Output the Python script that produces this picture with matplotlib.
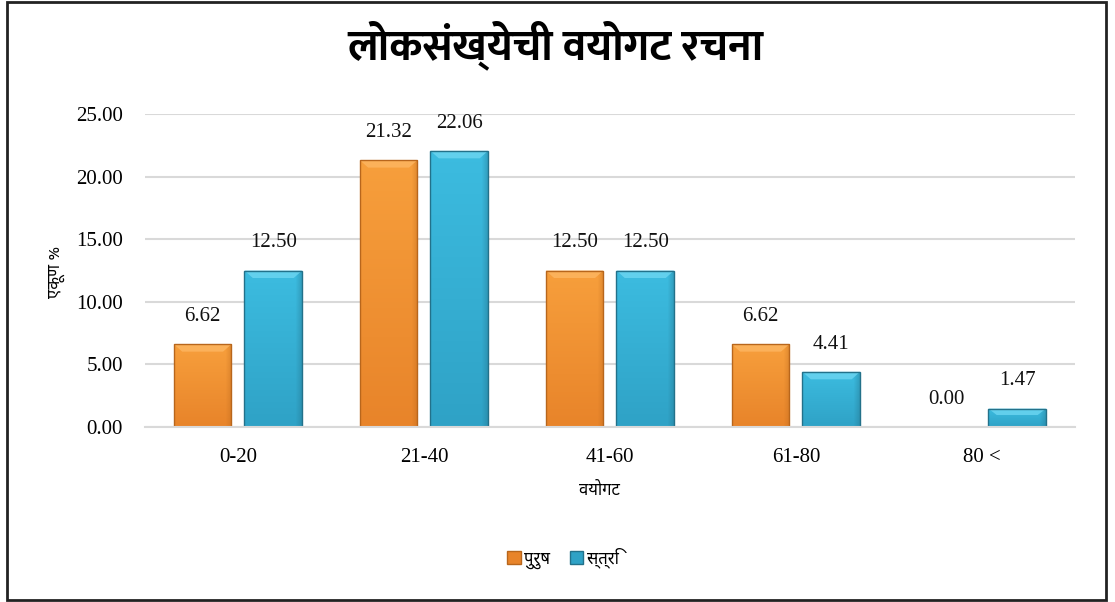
import matplotlib
matplotlib.use("Agg")
import matplotlib.pyplot as plt
import numpy as np
from matplotlib import font_manager
from matplotlib.colors import to_rgb
from matplotlib.patches import Polygon, Rectangle

# data
age_groups = ["0-20", "21-40", "41-60", "61-80", "80 <"]
male = [6.62, 21.32, 12.50, 6.62, 0.00]
female = [12.50, 22.06, 12.50, 4.41, 1.47]
series_names = ["पुरुष", "स्त्रि"]
title = "लोकसंख्येची वयोगट रचना"
xlabel = "वयोगट"
ylabel = "एकूण %"
yticks = [0, 5, 10, 15, 20, 25]

# pick fonts that have Devanagari glyphs
fonts = font_manager.fontManager.ttflist
installed = {f.name for f in fonts}
prefs = ["Noto Sans Devanagari", "Lohit Devanagari", "Mukta", "Ek Mukta", "FreeSans"]
deva = next((n for n in prefs if n in installed), "FreeSans")
bold_ok = lambda n: any(f.name == n and f.weight in ("bold", 700, "heavy", 800, 900) for f in fonts)
title_font = next((n for n in prefs if n in installed and bold_ok(n)), deva)
deva_fam = [deva, "DejaVu Sans"]
num_fam = ["Liberation Serif", "DejaVu Serif"]

# (top, bottom, edge, bevel) colours
orange_cols = ["#F79F3C", "#E8842A", "#B8661C", "#FDB560"]
blue_cols = ["#3CBCE0", "#2FA2C6", "#23718A", "#6AD4F0"]

fig = plt.figure(figsize=(11.15, 6.02), dpi=100)
ax = fig.add_axes([0.130, 0.2907, 0.834, 0.5199])

x = np.arange(len(age_groups))
w = 0.31
off = 0.19
b1 = ax.bar(x - off, male, w, color=orange_cols[1], edgecolor="none", zorder=2)
b2 = ax.bar(x + off, female, w, color=blue_cols[1], edgecolor="none", zorder=2)


def shade(bars, cols):
    top_c, bot_c, edge_c, bev_c = [np.array(to_rgb(c)) for c in cols]
    t = np.linspace(0, 1, 80)[:, None, None]
    s = np.linspace(0, 1, 40)[None, :, None]
    img = top_c * (1 - t) + bot_c * t
    dark = np.clip((s - 0.9) / 0.1, 0, 1) * 0.35
    img = img * (1 - dark) + edge_c * dark
    img = np.broadcast_to(img, (80, 40, 3)).copy()
    for b in bars:
        x0, y0, bw, bh = b.get_x(), b.get_y(), b.get_width(), b.get_height()
        if bh <= 0:
            b.set_visible(False)
            continue
        im = ax.imshow(img, extent=[x0, x0 + bw, y0, y0 + bh],
                       aspect="auto", zorder=2.1, interpolation="bilinear")
        im.set_clip_path(b)
        dx = 0.045
        dy = min(0.6, bh * 0.35)
        top = y0 + bh
        ax.add_patch(Polygon([(x0, top), (x0 + bw, top), (x0 + bw - dx, top - dy), (x0 + dx, top - dy)],
                             closed=True, facecolor=bev_c, edgecolor="none", alpha=0.85, zorder=2.2))
        ax.add_patch(Rectangle((x0, y0), bw, bh, facecolor="none", edgecolor=edge_c, linewidth=1.0, zorder=2.3))


shade(b1, orange_cols)
shade(b2, blue_cols)

for bars, vals in [(b1, male), (b2, female)]:
    for b, v in zip(bars, vals):
        ax.annotate("%.2f" % v, (b.get_x() + b.get_width() / 2, v), xytext=(0, 20),
                    textcoords="offset points", ha="center", va="center",
                    fontsize=15, family=num_fam, color="#111111")

ax.set_xlim(-0.5, len(age_groups) - 0.5)
ax.set_ylim(0, 25)
ax.set_yticks(yticks)
ax.set_yticklabels(["%.2f" % t for t in yticks], family=num_fam, fontsize=15)
ax.set_xticks(x)
ax.set_xticklabels(age_groups, family=num_fam, fontsize=15)
ax.tick_params(length=0, pad=15)
ax.tick_params(axis="y", pad=16)
ax.grid(axis="y", color="#D9D9D9", linewidth=1.5, zorder=0)
ax.set_axisbelow(True)
for s in ["top", "right", "left"]:
    ax.spines[s].set_visible(False)
ax.spines["bottom"].set_color("#D9D9D9")
ax.spines["bottom"].set_linewidth(1.5)

fig.text(0.498, 0.925, title, ha="center", va="center", fontsize=31, fontweight="bold",
         family=[title_font, "DejaVu Sans"])
fig.text(0.538, 0.185, xlabel, ha="center", va="center", fontsize=12, family=deva_fam)
fig.text(0.051, 0.548, ylabel, ha="center", va="center", fontsize=12, rotation=90, family=deva_fam)

h1 = Rectangle((0, 0), 1, 1, facecolor=orange_cols[1], edgecolor=orange_cols[2])
h2 = Rectangle((0, 0), 1, 1, facecolor=blue_cols[1], edgecolor=blue_cols[2])
fig.legend([h1, h2], series_names, loc="center", bbox_to_anchor=(0.505, 0.073), ncol=2, frameon=False,
           prop={"family": deva_fam, "size": 12}, handlelength=0.8, handleheight=0.8,
           handletextpad=0.2, columnspacing=1.2)

fig.patches.append(Rectangle((0.0065, 0.004), 0.985, 0.993, transform=fig.transFigure,
                             facecolor="none", edgecolor="#222222", linewidth=2))

fig.savefig("out.png", dpi=100)
